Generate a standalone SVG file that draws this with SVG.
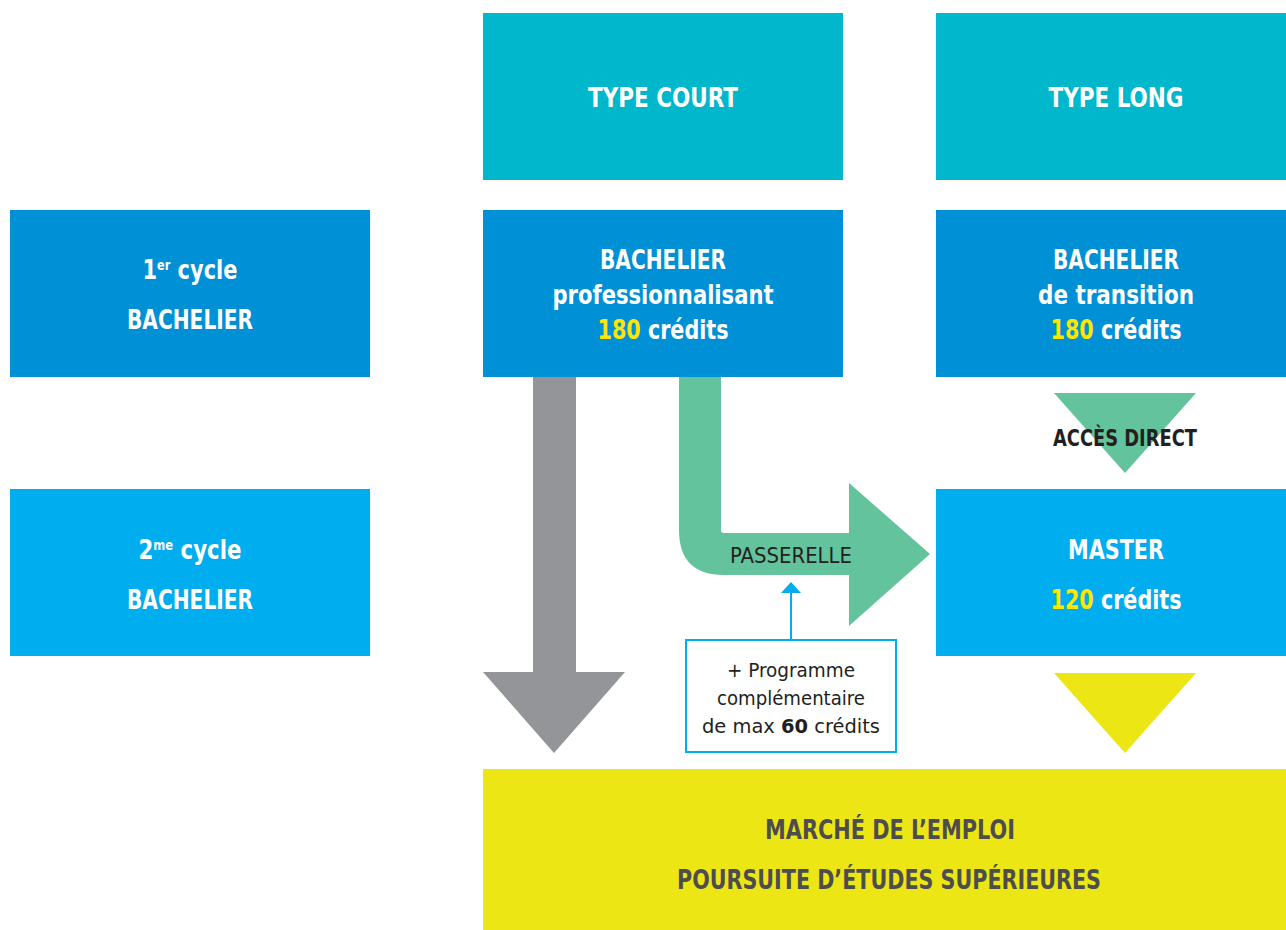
<svg xmlns="http://www.w3.org/2000/svg" width="1286" height="930" viewBox="0 0 1286 930">
<style>
text{font-family:"DejaVu Sans Condensed","DejaVu Sans","Liberation Sans",sans-serif;text-anchor:middle}
.w{fill:#ffffff;font-size:26px;font-weight:bold}
.y{fill:#ffe500}
.g{fill:#4d4d4d;font-size:27px;font-weight:bold}
.sm{fill:#231f20;font-size:20px}
.type{fill:#00b7cc}
.c1{fill:#0090d6}
.c2{fill:#00adee}
</style>
<rect width="1286" height="930" fill="#ffffff"/>
<g id="type-court"><rect class="type" x="483" y="13" width="360" height="167"/><text class="w" x="663" y="107" textLength="150" lengthAdjust="spacingAndGlyphs">TYPE COURT</text></g>
<g id="type-long"><rect class="type" x="936" y="13" width="350" height="167"/><text class="w" x="1116" y="107" textLength="135" lengthAdjust="spacingAndGlyphs">TYPE LONG</text></g>
<g id="cycle1"><rect class="c1" x="10" y="210" width="360" height="167"/><text class="w" x="190" y="279" textLength="95" lengthAdjust="spacingAndGlyphs">1<tspan font-size="14" dy="-9">er</tspan><tspan dy="9"> cycle</tspan></text><text class="w" x="190" y="329" textLength="126" lengthAdjust="spacingAndGlyphs">BACHELIER</text></g>
<g id="bach-pro"><rect class="c1" x="483" y="210" width="360" height="167"/><text class="w" x="663" y="269" textLength="126" lengthAdjust="spacingAndGlyphs">BACHELIER</text><text class="w" x="663" y="304" textLength="221" lengthAdjust="spacingAndGlyphs">professionnalisant</text><text class="w" x="663" y="339" textLength="131" lengthAdjust="spacingAndGlyphs"><tspan class="y">180</tspan> crédits</text></g>
<g id="bach-trans"><rect class="c1" x="936" y="210" width="350" height="167"/><text class="w" x="1116" y="269" textLength="126" lengthAdjust="spacingAndGlyphs">BACHELIER</text><text class="w" x="1116" y="304" textLength="156" lengthAdjust="spacingAndGlyphs">de transition</text><text class="w" x="1116" y="339" textLength="131" lengthAdjust="spacingAndGlyphs"><tspan class="y">180</tspan> crédits</text></g>
<g id="cycle2"><rect class="c2" x="10" y="489" width="360" height="167"/><text class="w" x="190" y="559" textLength="103" lengthAdjust="spacingAndGlyphs">2<tspan font-size="14" dy="-9">me</tspan><tspan dy="9"> cycle</tspan></text><text class="w" x="190" y="609" textLength="126" lengthAdjust="spacingAndGlyphs">BACHELIER</text></g>
<g id="master"><rect class="c2" x="936" y="489" width="350" height="167"/><text class="w" x="1116" y="559" textLength="96" lengthAdjust="spacingAndGlyphs">MASTER</text><text class="w" x="1116" y="609" textLength="131" lengthAdjust="spacingAndGlyphs"><tspan class="y">120</tspan> crédits</text></g>
<g id="emploi"><rect fill="#ece614" x="483" y="769" width="803" height="161"/><text class="g" x="890" y="839" textLength="250" lengthAdjust="spacingAndGlyphs">MARCHÉ DE L’EMPLOI</text><text class="g" x="889" y="889" textLength="424" lengthAdjust="spacingAndGlyphs">POURSUITE D’ÉTUDES SUPÉRIEURES</text></g>
<g id="programme"><rect x="686" y="640" width="210" height="112" fill="#ffffff" stroke="#00adee" stroke-width="2"/><text class="sm" x="791" y="677" textLength="128" lengthAdjust="spacingAndGlyphs">+ Programme</text><text class="sm" x="791" y="705" textLength="148" lengthAdjust="spacingAndGlyphs">complémentaire</text><text class="sm" x="791" y="733" textLength="178" lengthAdjust="spacingAndGlyphs">de max <tspan font-weight="bold">60</tspan> crédits</text></g>
<g id="connectors">
<path fill="#939598" d="M533 377H576V672H625L554 753L483 672H533Z"/>
<path fill="#63c39c" d="M679 377H721V530Q721 533 724 533H849V483L930 554L849 626V575H724Q679 575 679 530Z"/>
<text x="791" y="563" fill="#231f20" font-size="21" textLength="122" lengthAdjust="spacingAndGlyphs">PASSERELLE</text>
<path fill="#63c39c" d="M1054 393H1196L1125 473Z"/>
<text x="1125" y="446" fill="#231f20" font-size="23" font-weight="bold" textLength="144" lengthAdjust="spacingAndGlyphs">ACCÈS DIRECT</text>
<path fill="#ece614" d="M1054 673H1196L1125 753Z"/>
<line x1="791" y1="640" x2="791" y2="590" stroke="#00adee" stroke-width="2"/>
<path fill="#00adee" d="M781 593L791 582L801 593Z"/>
</g>
</svg>
